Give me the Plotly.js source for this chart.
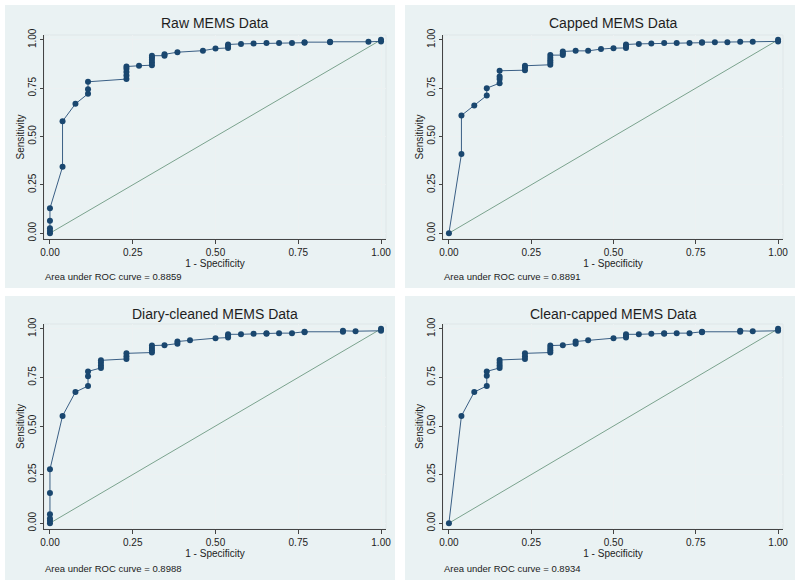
<!DOCTYPE html>
<html>
<head>
<meta charset="utf-8">
<script src="https://cdn.plot.ly/plotly-3.0.1.min.js"></script>
<style>
  body { margin: 0; background: #fff; }
  #chart { width: 800px; height: 586px; }
</style>
</head>
<body>
<div id="chart"></div>
<script>
// ROC points (x = 1 - specificity, y = sensitivity)
const rawX = [0, 0, 0, 0, 0, 0.038, 0.038, 0.077, 0.115, 0.115, 0.115,
  0.231, 0.231, 0.231, 0.231, 0.231, 0.269, 0.308, 0.308, 0.308, 0.308, 0.308,
  0.346, 0.346, 0.385, 0.462, 0.5, 0.538, 0.538, 0.538, 0.577, 0.615, 0.654,
  0.692, 0.731, 0.769, 0.769, 0.846, 0.846, 0.962, 1, 1];
const rawY = [0, 0.012, 0.026, 0.064, 0.129, 0.343, 0.579, 0.669, 0.721, 0.745, 0.783,
  0.797, 0.816, 0.834, 0.85, 0.862, 0.866, 0.869, 0.883, 0.897, 0.909, 0.918,
  0.918, 0.925, 0.936, 0.944, 0.955, 0.958, 0.968, 0.976, 0.979, 0.981, 0.983,
  0.984, 0.984, 0.985, 0.988, 0.988, 0.99, 0.99, 0.992, 1];

const cappedX = [0, 0.038, 0.038, 0.077, 0.115, 0.115, 0.154, 0.154, 0.154, 0.154,
  0.231, 0.231, 0.231, 0.308, 0.308, 0.308, 0.308, 0.308, 0.346, 0.346, 0.346,
  0.385, 0.423, 0.462, 0.5, 0.538, 0.538, 0.538, 0.577, 0.615, 0.654, 0.692,
  0.731, 0.769, 0.769, 0.808, 0.846, 0.885, 0.923, 1, 1];
const cappedY = [0, 0.409, 0.609, 0.66, 0.712, 0.75, 0.776, 0.798, 0.81, 0.84,
  0.843, 0.857, 0.866, 0.871, 0.883, 0.895, 0.907, 0.921, 0.921, 0.93, 0.94,
  0.943, 0.943, 0.952, 0.957, 0.958, 0.968, 0.976, 0.979, 0.981, 0.983, 0.984,
  0.984, 0.985, 0.988, 0.988, 0.988, 0.99, 0.99, 0.992, 1];

const diaryX = [0, 0, 0, 0, 0, 0, 0.038, 0.077, 0.115, 0.115, 0.115,
  0.154, 0.154, 0.154, 0.154, 0.231, 0.231, 0.231, 0.308, 0.308, 0.308, 0.308,
  0.346, 0.385, 0.385, 0.423, 0.5, 0.538, 0.538, 0.538, 0.577, 0.615, 0.654, 0.654,
  0.692, 0.731, 0.769, 0.769, 0.885, 0.885, 0.923, 1, 1];
const diaryY = [0, 0.012, 0.024, 0.046, 0.155, 0.277, 0.552, 0.675, 0.706, 0.756, 0.781,
  0.799, 0.812, 0.826, 0.838, 0.845, 0.859, 0.874, 0.878, 0.89, 0.902, 0.914,
  0.916, 0.924, 0.935, 0.941, 0.952, 0.955, 0.965, 0.972, 0.972, 0.975, 0.975, 0.978,
  0.978, 0.978, 0.982, 0.985, 0.985, 0.99, 0.988, 0.99, 1];

const cleanX = [0, 0.038, 0.077, 0.115, 0.115, 0.115,
  0.154, 0.154, 0.154, 0.154, 0.231, 0.231, 0.231, 0.308, 0.308, 0.308, 0.308,
  0.346, 0.385, 0.385, 0.423, 0.5, 0.538, 0.538, 0.538, 0.577, 0.615, 0.654, 0.654,
  0.692, 0.731, 0.769, 0.769, 0.885, 0.885, 0.923, 1, 1];
const cleanY = [0, 0.552, 0.675, 0.706, 0.759, 0.781,
  0.799, 0.812, 0.826, 0.84, 0.845, 0.859, 0.874, 0.878, 0.89, 0.902, 0.914,
  0.916, 0.924, 0.935, 0.941, 0.952, 0.955, 0.965, 0.972, 0.972, 0.975, 0.975, 0.978,
  0.978, 0.978, 0.982, 0.985, 0.985, 0.99, 0.988, 0.99, 1];

const refLine = [0, 1];
const panelTitles = ['Raw MEMS Data', 'Capped MEMS Data', 'Diary-cleaned MEMS Data', 'Clean-capped MEMS Data'];
const aucValues = ['0.8859', '0.8891', '0.8988', '0.8934'];
const tickVals = [0, 0.25, 0.5, 0.75, 1];
const tickText = ['0.00', '0.25', '0.50', '0.75', '1.00'];

const seriesX = [rawX, cappedX, diaryX, cleanX];
const seriesY = [rawY, cappedY, diaryY, cleanY];

const W = 800, H = 586;
// plot area in pixels: [left, right, top, bottom]
const boxes = [
  [44, 386, 35, 239],
  [443, 783, 35, 239],
  [44, 386, 324, 529],
  [443, 783, 324, 529],
];
// panel backgrounds in pixels
const panels = [
  [5, 395, 5, 288],
  [405, 795, 5, 288],
  [5, 395, 296, 580],
  [405, 795, 296, 580],
];

const font = 'Arial, "Liberation Sans", sans-serif';
const navy = '#1a476f';

let traces = [];
let layout = {
  width: W,
  height: H,
  margin: {l: 0, r: 0, t: 0, b: 0},
  paper_bgcolor: '#ffffff',
  plot_bgcolor: '#ffffff',
  showlegend: false,
  font: {family: font, color: '#222'},
  shapes: [],
  annotations: [],
};

for (let i = 0; i < 4; i++) {
  const n = i === 0 ? '' : String(i + 1);
  const b = boxes[i];
  const p = panels[i];

  traces.push({
    x: refLine, y: refLine,
    xaxis: 'x' + n, yaxis: 'y' + n,
    type: 'scatter', mode: 'lines',
    line: {color: '#7ba38e', width: 1},
    hoverinfo: 'skip',
  });
  traces.push({
    x: seriesX[i], y: seriesY[i],
    xaxis: 'x' + n, yaxis: 'y' + n,
    type: 'scatter', mode: 'lines+markers',
    line: {color: '#3a5f85', width: 1},
    marker: {color: navy, size: 6},
  });

  layout['xaxis' + n] = {
    domain: [b[0] / W, b[1] / W],
    anchor: 'y' + n,
    range: [-0.018, 1.015],
    tickvals: tickVals, ticktext: tickText,
    ticks: 'outside', ticklen: 4, tickcolor: '#444',
    tickfont: {size: 10, color: '#222'},
    showline: true, linecolor: '#444', linewidth: 1,
    showgrid: true, gridcolor: '#edf1f2', zeroline: false,
    title: {text: '1 - Specificity', font: {size: 10, color: '#222'}, standoff: 0},
  };
  layout['yaxis' + n] = {
    domain: [1 - b[3] / H, 1 - b[2] / H],
    anchor: 'x' + n,
    range: [-0.03, 1.025],
    tickvals: tickVals, ticktext: tickText,
    ticks: 'outside', ticklen: 3, tickcolor: '#444', tickangle: -90,
    tickfont: {size: 10, color: '#222'},
    showline: true, linecolor: '#444', linewidth: 1,
    showgrid: true, gridcolor: '#edf1f2', zeroline: false,
    title: {text: 'Sensitivity', font: {size: 10, color: '#222'}, standoff: 0},
  };

  layout.shapes.push({
    type: 'rect', xref: 'paper', yref: 'paper', layer: 'below',
    x0: p[0] / W, x1: p[1] / W, y0: 1 - p[3] / H, y1: 1 - p[2] / H,
    fillcolor: '#eaf2f3', line: {width: 0},
  });
  layout.shapes.push({
    type: 'rect', xref: 'x' + n + ' domain', yref: 'y' + n + ' domain', layer: 'below',
    x0: 0, x1: 1, y0: 0, y1: 1,
    line: {color: '#dfe6e8', width: 1},
  });

  layout.annotations.push({
    text: panelTitles[i],
    xref: 'paper', yref: 'paper',
    x: (b[0] + b[1]) / 2 / W, y: 1 - (p[2] + 18) / H,
    xanchor: 'center', yanchor: 'middle', showarrow: false,
    font: {size: 14, color: '#1e1e1e'},
  });
  layout.annotations.push({
    text: 'Area under ROC curve = ' + aucValues[i],
    xref: 'paper', yref: 'paper',
    x: (b[0] - 1) / W, y: 1 - (p[3] - 12) / H,
    xanchor: 'left', yanchor: 'middle', showarrow: false,
    font: {size: 9.5, color: '#222'},
  });
}

Plotly.newPlot('chart', traces, layout, {displayModeBar: false, staticPlot: true});
</script>
</body>
</html>
